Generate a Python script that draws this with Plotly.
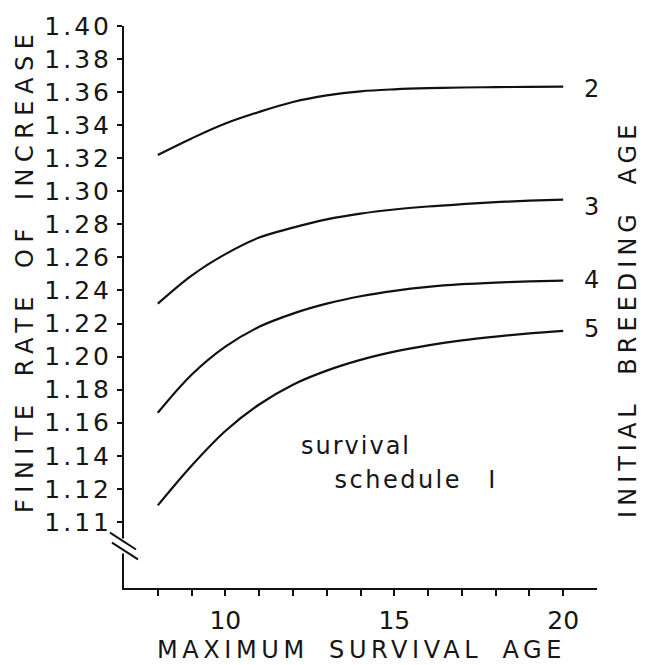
import plotly.graph_objects as go

# ---- data ----
max_survival_age = [8, 9, 10, 11, 12, 13, 14, 15, 16, 17, 18, 19, 20]
rate_breeding_age_2 = [1.322, 1.332, 1.341, 1.348, 1.354, 1.3580, 1.3605, 1.3617, 1.3624, 1.3628, 1.3630, 1.3632, 1.3633]
rate_breeding_age_3 = [1.232, 1.249, 1.262, 1.272, 1.278, 1.2830, 1.2865, 1.2890, 1.2908, 1.2922, 1.2934, 1.2943, 1.2950]
rate_breeding_age_4 = [1.166, 1.189, 1.206, 1.218, 1.226, 1.2320, 1.2365, 1.2398, 1.2422, 1.2438, 1.2448, 1.2455, 1.2460]
rate_breeding_age_5 = [1.110, 1.134, 1.155, 1.171, 1.183, 1.1915, 1.1980, 1.2030, 1.2068, 1.2098, 1.2121, 1.2140, 1.2155]
breeding_age_labels = ["2", "3", "4", "5"]

y_tick_values = [1.10, 1.12, 1.14, 1.16, 1.18, 1.20, 1.22, 1.24, 1.26, 1.28, 1.30, 1.32, 1.34, 1.36, 1.38, 1.40]
y_tick_labels = ["1.11", "1.12", "1.14", "1.16", "1.18", "1.20", "1.22", "1.24", "1.26", "1.28",
                 "1.30", "1.32", "1.34", "1.36", "1.38", "1.40"]
x_tick_values = [8, 9, 10, 11, 12, 13, 14, 15, 16, 17, 18, 19, 20]
x_tick_labels = ["", "", "10", "", "", "", "", "15", "", "", "", "", "20"]

x_title = "MAXIMUM SURVIVAL AGE"
y_title = "FINITE RATE OF INCREASE"
right_title = "INITIAL BREEDING AGE"
note_line1 = "survival"
note_line2 = "schedule\u00a0I"

# ---- styling ----
FONT = "DejaVu Sans"
INK = "#161616"
LINE = "#111111"
label_yshift = [-2, -7, 1, 2]

series = [rate_breeding_age_2, rate_breeding_age_3, rate_breeding_age_4, rate_breeding_age_5]

fig = go.Figure()
for vals, name in zip(series, breeding_age_labels):
    fig.add_trace(go.Scatter(
        x=max_survival_age, y=vals, mode="lines", name=name,
        line=dict(color=LINE, width=2.2, shape="spline", smoothing=1.0),
        showlegend=False, hoverinfo="x+y",
    ))

annotations = []
for vals, name, ys in zip(series, breeding_age_labels, label_yshift):
    annotations.append(dict(
        x=max_survival_age[-1], y=vals[-1], xref="x", yref="y", text=name,
        showarrow=False, xanchor="center", yanchor="middle", xshift=28, yshift=ys,
        font=dict(family=FONT, size=24, color=INK),
    ))
annotations += [
    dict(x=0.49, y=0.2527, xref="paper", yref="paper", text=note_line1, showarrow=False,
         xanchor="center", yanchor="middle", font=dict(family=FONT, size=24, color=INK)),
    dict(x=0.617, y=0.1926, xref="paper", yref="paper", text=note_line2, showarrow=False,
         xanchor="center", yanchor="middle", font=dict(family=FONT, size=24, color=INK)),
    dict(x=0.503, y=-0.111, xref="paper", yref="paper", text=x_title, showarrow=False,
         xanchor="center", yanchor="middle", font=dict(family=FONT, size=24, color=INK)),
    dict(x=-0.2093, y=0.5654, xref="paper", yref="paper", text=y_title, showarrow=False,
         textangle=-90, xanchor="center", yanchor="middle", font=dict(family=FONT, size=24, color=INK)),
    dict(x=1.0655, y=0.4788, xref="paper", yref="paper", text=right_title, showarrow=False,
         textangle=-90, xanchor="center", yanchor="middle", font=dict(family=FONT, size=24, color=INK)),
]

# axis break on the y axis (decoration)
shapes = [
    dict(type="rect", xref="paper", yref="y", x0=-0.02, x1=0.02, y0=1.0809, y1=1.0899,
         fillcolor="white", line=dict(width=0), layer="above"),
    dict(type="line", xref="paper", yref="y", x0=-0.0296, x1=0.0254, y0=1.0935, y1=1.0833,
         line=dict(color=LINE, width=2), layer="above"),
    dict(type="line", xref="paper", yref="y", x0=-0.0254, x1=0.0296, y0=1.0875, y1=1.0773,
         line=dict(color=LINE, width=2), layer="above"),
]

fig.update_layout(
    width=645, height=665, autosize=False,
    margin=dict(l=124, r=48, t=22, b=77, pad=0),
    paper_bgcolor="white", plot_bgcolor="white",
    font=dict(family=FONT, color=INK),
    annotations=annotations, shapes=shapes,
    xaxis=dict(range=[7, 21], showline=True, linecolor=LINE, linewidth=2,
               ticks="outside", ticklen=6, tickwidth=1.5, tickcolor=LINE,
               tickmode="array", tickvals=x_tick_values, ticktext=x_tick_labels,
               ticklabelstandoff=3,
               showgrid=False, zeroline=False, tickfont=dict(family=FONT, size=25, color=INK)),
    yaxis=dict(range=[1.06, 1.40], showline=True, linecolor=LINE, linewidth=2,
               ticks="outside", ticklen=5, tickwidth=1.5, tickcolor=LINE,
               tickmode="array", tickvals=y_tick_values, ticktext=y_tick_labels,
               showgrid=False, zeroline=False, tickfont=dict(family=FONT, size=25, color=INK)),
)

post = """
var gd = document.getElementById('{plot_id}');
function fixSpacing(){
  var spec = {'4':[2,0], '5':[2.5,16], '6':[4.6,8], '7':[6.5,8], '8':[5,12]};
  gd.querySelectorAll('g.annotation').forEach(function(g){
    var s = spec[g.getAttribute('data-index')];
    if (s) { g.querySelectorAll('text').forEach(function(t){
      t.style.letterSpacing = s[0] + 'px'; t.style.wordSpacing = s[1] + 'px'; }); }
  });
  gd.querySelectorAll('g.ytick text').forEach(function(t){ t.style.letterSpacing = '3px'; });
}
fixSpacing(); setTimeout(fixSpacing, 50); setTimeout(fixSpacing, 400);
if (gd.on) { gd.on('plotly_afterplot', fixSpacing); }
"""

fig.write_html("out.html", post_script=post, config={"displayModeBar": False})
